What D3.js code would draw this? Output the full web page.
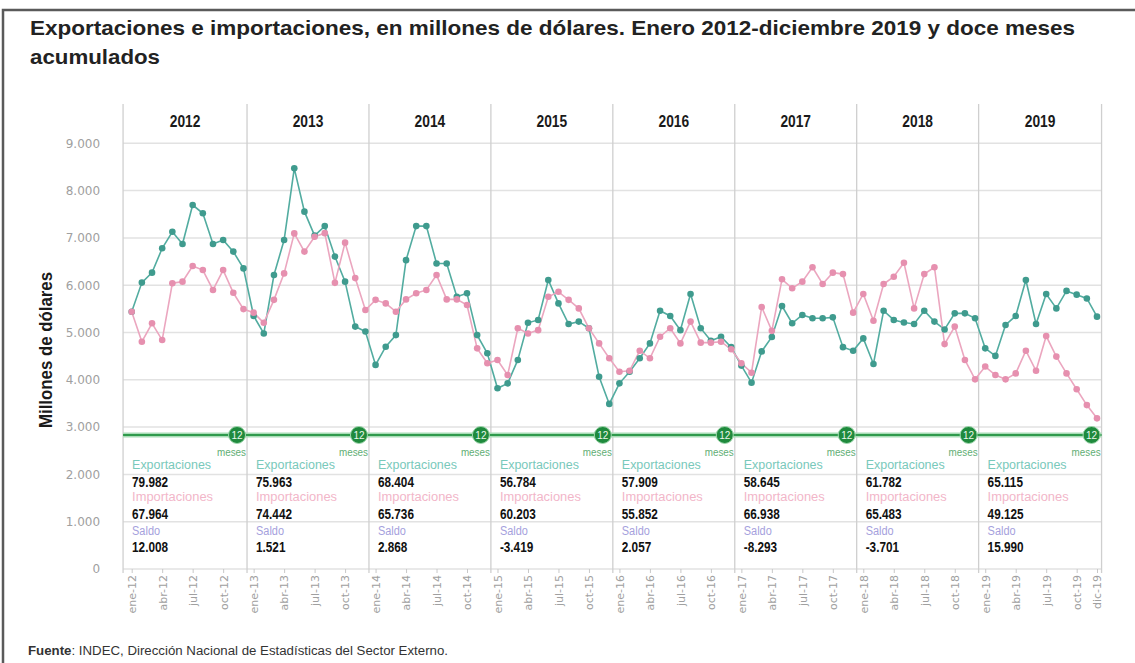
<!DOCTYPE html>
<html>
<head>
<meta charset="utf-8">
<script src="https://cdn.jsdelivr.net/npm/d3@7"></script>
<style>
  body { margin: 0; background: #fff; }
  svg { display: block; }
</style>
</head>
<body>
<script>
const years = ['2012', '2013', '2014', '2015', '2016', '2017', '2018', '2019'];
const monthAbbr = ['ene', 'feb', 'mar', 'abr', 'may', 'jun', 'jul', 'ago', 'sep', 'oct', 'nov', 'dic'];

// millones de dólares, ene-12 .. dic-19
const exportaciones = [
  5440, 6055, 6265, 6780, 7130, 6870, 7695, 7520, 6870, 6955, 6710, 6355,
  5350, 4980, 6215, 6955, 8470, 7555, 7050, 7250, 6605, 6075, 5125, 5020,
  4315, 4700, 4945, 6530, 7250, 7250, 6460, 6460, 5755, 5830, 4945, 4560,
  3820, 3925, 4420, 5205, 5265, 6110, 5615, 5180, 5230, 5090, 4065, 3490,
  3925, 4170, 4455, 4770, 5460, 5350, 5050, 5815, 5090, 4825, 4910, 4690,
  4300, 3940, 4600, 4905, 5560, 5195, 5370, 5300, 5300, 5320, 4690, 4615,
  4875, 4335, 5460, 5265, 5210, 5180, 5460, 5230, 5065, 5405, 5405, 5300,
  4665, 4505, 5160, 5350, 6110, 5180, 5815, 5510, 5880, 5800, 5720, 5335
];
const importaciones = [
  5440, 4805, 5195, 4840, 6040, 6075, 6405, 6320, 5900, 6320, 5840, 5495,
  5420, 5205, 5690, 6250, 7095, 6710, 7025, 7100, 6050, 6900, 6150, 5475,
  5690, 5615, 5440, 5700, 5830, 5900, 6215, 5700, 5700, 5580, 4665, 4350,
  4420, 4100, 5090, 4980, 5050, 5755, 5860, 5690, 5510, 5090, 4770, 4455,
  4170, 4190, 4615, 4455, 4910, 5090, 4770, 5230, 4785, 4785, 4805, 4645,
  4350, 4150, 5540, 5035, 6125, 5935, 6075, 6380, 6025, 6265, 6235, 5420,
  5815, 5250, 6025, 6180, 6475, 5510, 6235, 6380, 4755, 5125, 4420, 4010,
  4280, 4100, 4010, 4135, 4615, 4190, 4925, 4490, 4135, 3800, 3465, 3185
];

// doce meses acumulados
const expTotal = ['79.982', '75.963', '68.404', '56.784', '57.909', '58.645', '61.782', '65.115'];
const impTotal = ['67.964', '74.442', '65.736', '60.203', '55.852', '66.938', '65.483', '49.125'];
const saldoTotal = ['12.008', '1.521', '2.868', '-3.419', '2.057', '-8.293', '-3.701', '15.990'];

const yTicks = [0, 1000, 2000, 3000, 4000, 5000, 6000, 7000, 8000, 9000];

const monthLabels = [];
years.forEach(yr => monthAbbr.forEach(m => monthLabels.push(m + '-' + yr.slice(2))));
const xTicks = d3.range(0, 96, 3).concat([95]);

const W = 1135, H = 663;
const svg = d3.select('body').append('svg')
  .attr('width', W)
  .attr('height', H);

const sans = "'Liberation Sans',Arial,sans-serif";
const wide = "'DejaVu Sans',Verdana,sans-serif";

// squeeze a text horizontally, like a narrow face
function condense(sel, f) {
  sel.each(function() {
    const w = this.getComputedTextLength();
    d3.select(this).attr('textLength', w * f).attr('lengthAdjust', 'spacingAndGlyphs');
  });
}

// frame
svg.append('rect')
  .attr('x', 3).attr('y', 10)
  .attr('width', 1150).attr('height', 700)
  .attr('fill', 'none')
  .attr('stroke', '#5a5a5a')
  .attr('stroke-width', 2.5);

// title
svg.append('text')
  .attr('x', 30).attr('y', 35)
  .attr('font-family', sans)
  .attr('font-weight', 'bold')
  .attr('font-size', 21)
  .attr('fill', '#222')
  .attr('textLength', 1045)
  .attr('lengthAdjust', 'spacingAndGlyphs')
  .text('Exportaciones e importaciones, en millones de dólares. Enero 2012-diciembre 2019 y doce meses');
svg.append('text')
  .attr('x', 30).attr('y', 64)
  .attr('font-family', sans)
  .attr('font-weight', 'bold')
  .attr('font-size', 21)
  .attr('fill', '#222')
  .attr('textLength', 130)
  .attr('lengthAdjust', 'spacingAndGlyphs')
  .text('acumulados');

const x = d3.scaleLinear().domain([0, 95]).range([131.7, 1097]);
const y = d3.scaleLinear().domain([0, 9000]).range([569, 143.3]);

const edges = d3.range(9).map(k => k === 0 ? x(-0.85) : k === 8 ? x(95.45) : x(12 * k - 0.65));
const left = edges[0], right = edges[8];

// horizontal grid
svg.append('g')
  .selectAll('line')
  .data(yTicks)
  .enter()
  .append('line')
  .attr('x1', left).attr('x2', right)
  .attr('y1', d => y(d)).attr('y2', d => y(d))
  .attr('stroke', '#e2e2e2')
  .attr('stroke-width', 1.5);

// year dividers
svg.append('g')
  .selectAll('line')
  .data(edges)
  .enter()
  .append('line')
  .attr('x1', d => d).attr('x2', d => d)
  .attr('y1', 104).attr('y2', 573)
  .attr('stroke', '#cfcfcf')
  .attr('stroke-width', 1.3);

// year headers
svg.append('g')
  .selectAll('text')
  .data(years)
  .enter()
  .append('text')
  .attr('x', (d, i) => (edges[i] + edges[i + 1]) / 2)
  .attr('y', 127)
  .attr('text-anchor', 'middle')
  .attr('font-family', sans)
  .attr('font-weight', 'bold')
  .attr('font-size', 16)
  .attr('fill', '#1a1a1a')
  .text(d => d)
  .call(condense, 0.86);

// y axis
const fmt = d3.formatLocale({ decimal: ',', thousands: '.', grouping: [3], currency: ['$', ''] }).format(',d');
const yAxis = svg.append('g')
  .attr('transform', `translate(${left - 20},0)`)
  .call(d3.axisLeft(y).tickValues(yTicks).tickFormat(fmt).tickSize(0));
yAxis.select('.domain').remove();
yAxis.selectAll('text')
  .attr('font-family', wide)
  .attr('font-size', 12)
  .attr('fill', '#a0a0a0');

svg.append('text')
  .attr('transform', 'translate(52,350) rotate(-90)')
  .attr('text-anchor', 'middle')
  .attr('font-family', sans)
  .attr('font-weight', 'bold')
  .attr('font-size', 19)
  .attr('fill', '#1a1a1a')
  .attr('textLength', 156)
  .attr('lengthAdjust', 'spacingAndGlyphs')
  .text('Millones de dólares');

// x axis
const xAxis = svg.append('g')
  .attr('transform', `translate(0,${y(0)})`)
  .call(d3.axisBottom(x).tickValues(xTicks).tickFormat(i => monthLabels[i]).tickSize(4));
xAxis.select('.domain').remove();
xAxis.selectAll('.tick line').attr('stroke', '#c8c8c8');
xAxis.selectAll('text')
  .attr('transform', 'rotate(-90)')
  .attr('text-anchor', 'end')
  .attr('x', -6)
  .attr('y', 0)
  .attr('dy', '0.35em')
  .attr('font-family', wide)
  .attr('font-size', 11)
  .attr('fill', '#a0a0a0');

// twelve-month band
const bandY = 435;
const band = svg.append('g');
band.append('line')
  .attr('x1', left).attr('x2', right)
  .attr('y1', bandY).attr('y2', bandY)
  .attr('stroke', '#a8dcb6')
  .attr('stroke-width', 5);
band.append('line')
  .attr('x1', left).attr('x2', right)
  .attr('y1', bandY).attr('y2', bandY)
  .attr('stroke', '#2f9a4c')
  .attr('stroke-width', 2.2);

const boxes = svg.append('g')
  .selectAll('g')
  .data(years)
  .enter()
  .append('g');

boxes.append('circle')
  .attr('cx', (d, i) => edges[i + 1] - 10)
  .attr('cy', bandY)
  .attr('r', 8.5)
  .attr('fill', '#1f8a3d')
  .attr('stroke', '#9ed6ac')
  .attr('stroke-width', 1);
boxes.append('text')
  .attr('x', (d, i) => edges[i + 1] - 10)
  .attr('y', bandY + 3.5)
  .attr('text-anchor', 'middle')
  .attr('font-family', sans)
  .attr('font-size', 10)
  .attr('fill', '#e9f7ec')
  .text('12');
boxes.append('text')
  .attr('x', (d, i) => edges[i + 1] - 1)
  .attr('y', 456)
  .attr('text-anchor', 'end')
  .attr('font-family', sans)
  .attr('font-size', 10)
  .attr('fill', '#5fae74')
  .attr('textLength', 29)
  .attr('lengthAdjust', 'spacingAndGlyphs')
  .text('meses');

const rows = [
  { label: 'Exportaciones', color: '#79c9bb', len: 79, vals: expTotal, ly: 469, vy: 487 },
  { label: 'Importaciones', color: '#f2b6c9', len: 81, vals: impTotal, ly: 501, vy: 518.5 },
  { label: 'Saldo', color: '#a5a1dd', len: 28, vals: saldoTotal, ly: 535, vy: 552 }
];
rows.forEach(r => {
  boxes.append('text')
    .attr('x', (d, i) => edges[i] + 9)
    .attr('y', r.ly)
    .attr('font-family', sans)
    .attr('font-size', 12.5)
    .attr('fill', r.color)
    .attr('textLength', r.len)
    .attr('lengthAdjust', 'spacingAndGlyphs')
    .text(r.label);
  boxes.append('text')
    .attr('x', (d, i) => edges[i] + 9)
    .attr('y', r.vy)
    .attr('font-family', sans)
    .attr('font-weight', 'bold')
    .attr('font-size', 14)
    .attr('fill', '#111')
    .text((d, i) => r.vals[i])
    .call(condense, 0.84);
});

// series
const series = [
  { values: exportaciones, line: '#52aca0', dot: '#3f9b8e' },
  { values: importaciones, line: '#eba6bf', dot: '#e690af' }
];
const line = d3.line()
  .x((d, i) => x(i))
  .y(d => y(d));

series.forEach(s => {
  svg.append('path')
    .datum(s.values)
    .attr('d', line)
    .attr('fill', 'none')
    .attr('stroke', s.line)
    .attr('stroke-width', 1.6);
});
series.forEach(s => {
  svg.append('g')
    .selectAll('circle')
    .data(s.values)
    .enter()
    .append('circle')
    .attr('cx', (d, i) => x(i))
    .attr('cy', d => y(d))
    .attr('r', 3.3)
    .attr('fill', s.dot);
});

// source
const src = svg.append('text')
  .attr('x', 28).attr('y', 655)
  .attr('font-family', sans)
  .attr('font-size', 12.5)
  .attr('fill', '#333')
  .attr('textLength', 420)
  .attr('lengthAdjust', 'spacingAndGlyphs');
src.append('tspan').attr('font-weight', 'bold').text('Fuente');
src.append('tspan').text(': INDEC, Dirección Nacional de Estadísticas del Sector Externo.');
</script>
</body>
</html>
